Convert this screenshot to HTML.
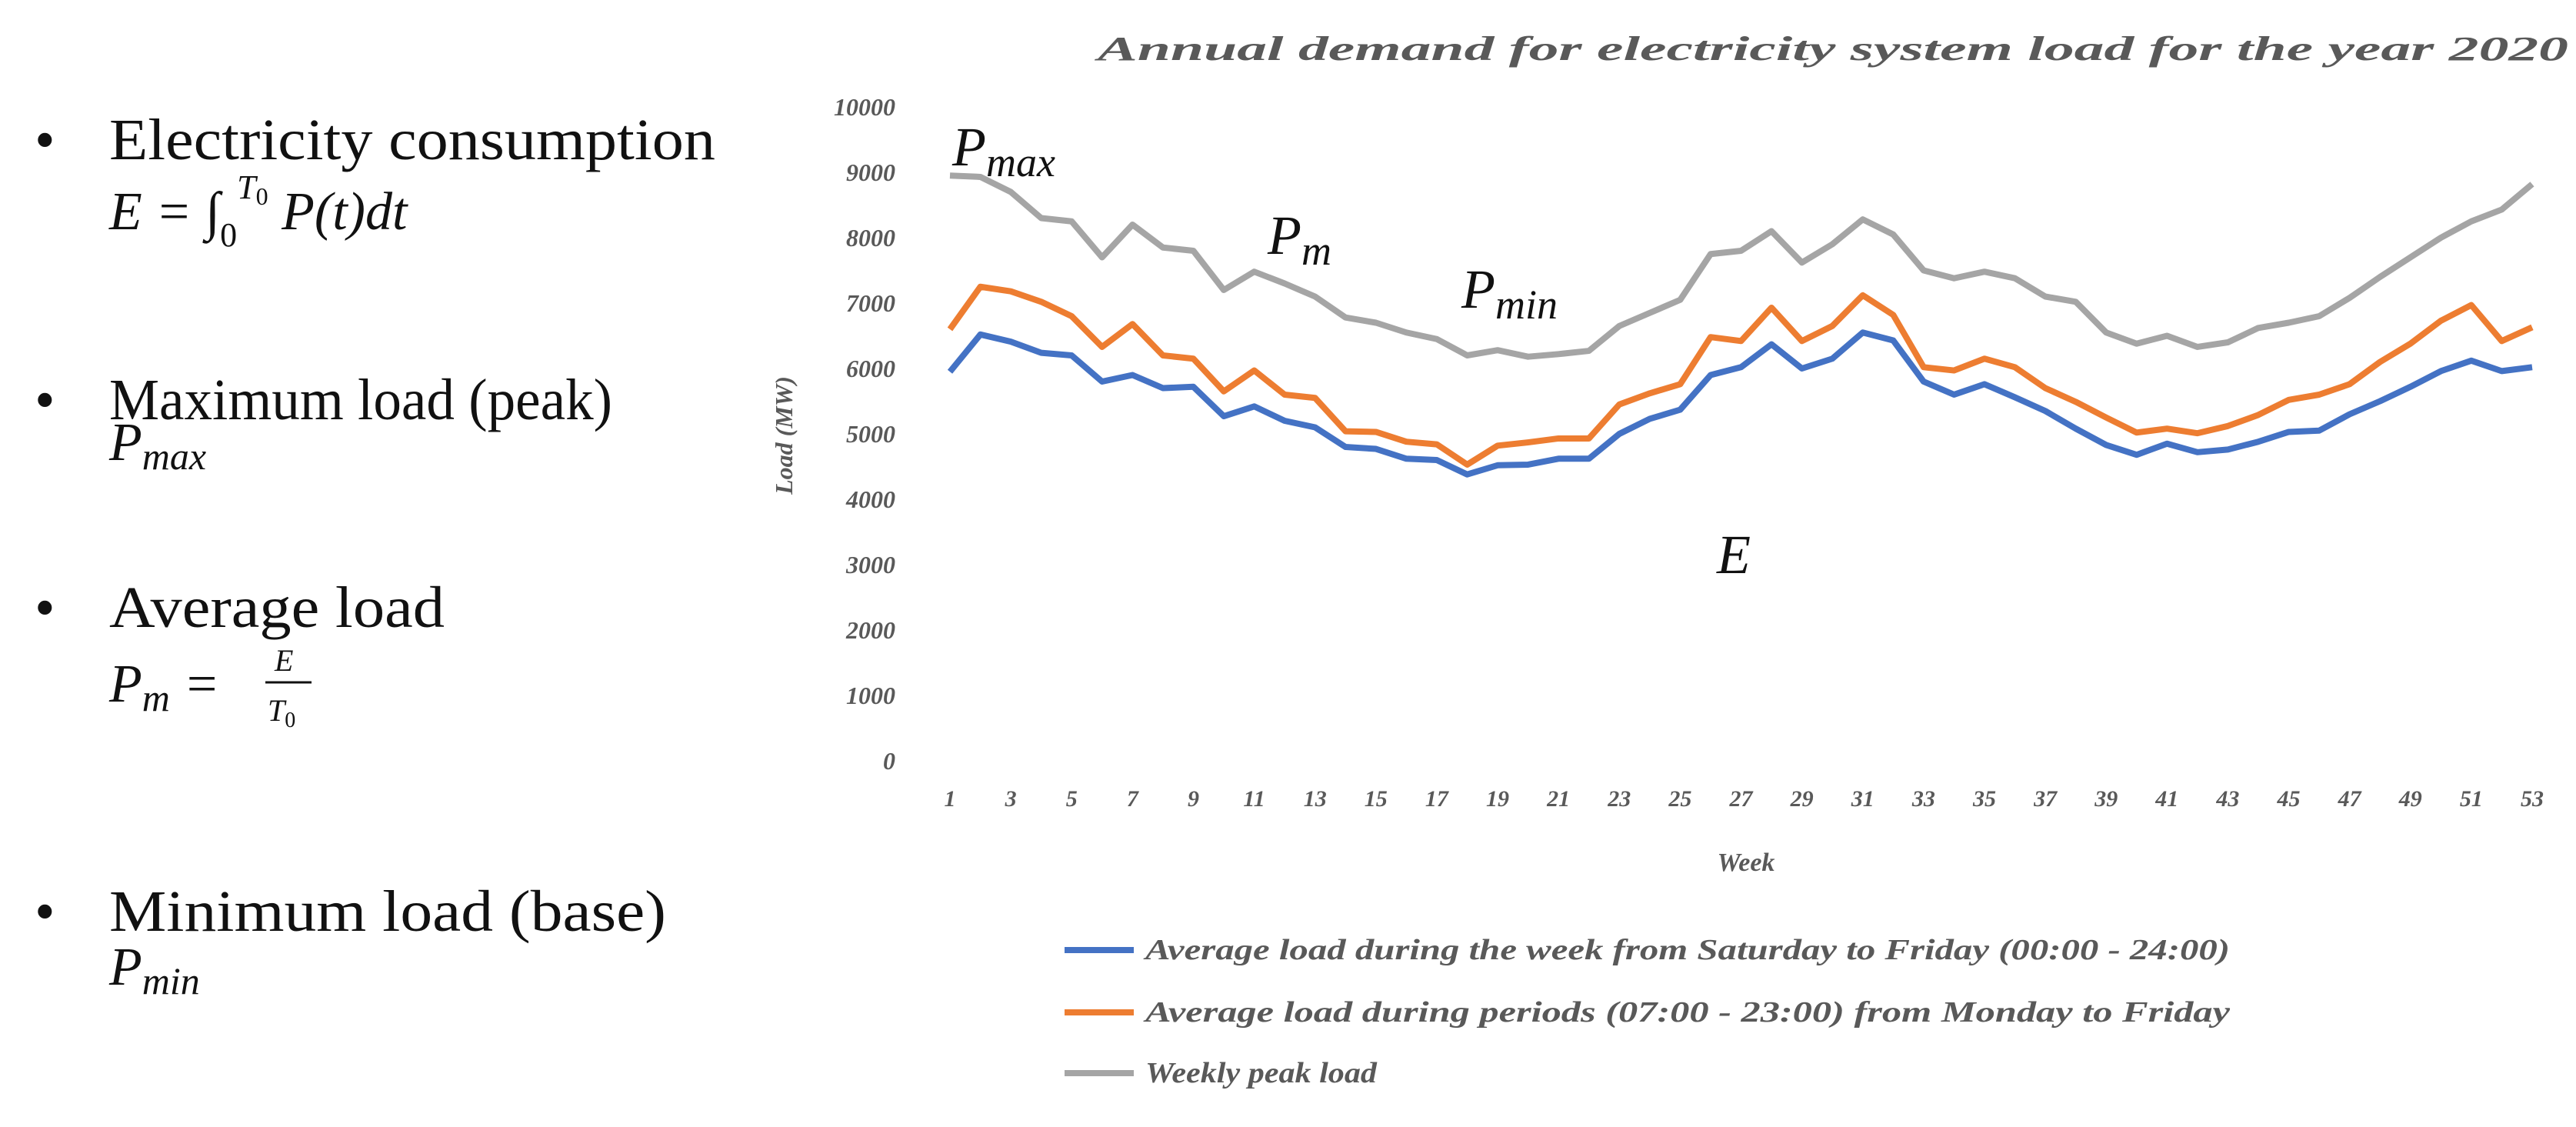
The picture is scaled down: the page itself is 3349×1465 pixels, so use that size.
<!DOCTYPE html>
<html><head><meta charset="utf-8"><style>
html,body{margin:0;padding:0;background:#fff;}
svg{display:block;}
.lt{font-family:"Liberation Serif",serif;font-size:76px;fill:#111;}
.math{font-family:"Liberation Serif",serif;font-style:italic;fill:#111;}
.ax{font-family:"Liberation Serif",serif;font-style:italic;font-weight:bold;fill:#595959;}
</style></head><body>
<svg id="chart" width="3349" height="1465" viewBox="0 0 3349 1465">
<g>
 <text class="lt" x="45" y="207">•</text>
 <text class="lt" x="142" y="207" textLength="788" lengthAdjust="spacingAndGlyphs">Electricity consumption</text>
 <text class="math" x="142" y="298" font-size="70">E = ∫<tspan font-size="44" dy="22" font-style="normal">0</tspan><tspan font-size="44" dy="-62">T</tspan><tspan font-size="32" dy="8" font-style="normal">0</tspan><tspan dy="32"> P(t)dt</tspan></text>
 <text class="lt" x="45" y="545">•</text>
 <text class="lt" x="142" y="545" textLength="654" lengthAdjust="spacingAndGlyphs">Maximum load (peak)</text>
 <text class="math" x="142" y="598" font-size="70">P<tspan font-size="50" dy="12">max</tspan></text>
 <text class="lt" x="45" y="815">•</text>
 <text class="lt" x="142" y="815" textLength="436" lengthAdjust="spacingAndGlyphs">Average load</text>
 <text class="math" x="142" y="912" font-size="70">P<tspan font-size="50" dy="12">m</tspan><tspan dy="-12"> =</tspan></text>
 <text class="math" x="357" y="872" font-size="40">E</text>
 <line x1="345" y1="887" x2="405" y2="887" stroke="#111" stroke-width="3"/>
 <text class="math" x="348" y="937" font-size="40">T<tspan font-size="28" dy="8" font-style="normal">0</tspan></text>
 <text class="lt" x="45" y="1210">•</text>
 <text class="lt" x="142" y="1210" textLength="724" lengthAdjust="spacingAndGlyphs">Minimum load (base)</text>
 <text class="math" x="142" y="1280" font-size="70">P<tspan font-size="50" dy="12">min</tspan></text>
</g>
<text class="ax" x="1427" y="78" font-size="44" textLength="1912" lengthAdjust="spacingAndGlyphs">Annual demand for electricity system load for the year 2020</text>
<g id="yticks"></g>
<g id="xticks"></g>
<text class="ax" font-size="32" transform="translate(1030,566) rotate(-90)" text-anchor="middle">Load (MW)</text>
<text class="ax" x="2270" y="1132" font-size="34" text-anchor="middle">Week</text>
<g id="series"></g>
<g>
 <text class="math" x="1238" y="215" font-size="72">P<tspan font-size="54" dy="14">max</tspan></text>
 <text class="math" x="1648" y="330" font-size="72">P<tspan font-size="54" dy="14">m</tspan></text>
 <text class="math" x="1900" y="400" font-size="72">P<tspan font-size="54" dy="14">min</tspan></text>
 <text class="math" x="2232" y="745" font-size="72">E</text>
</g>
<g id="legend"></g>
</svg>
<script>
const weeks = Array.from({length:53},(_,i)=>i+1);
const yTicks = [0,1000,2000,3000,4000,5000,6000,7000,8000,9000,10000];
const peakLoad = [8950,8930,8700,8300,8250,7700,8200,7850,7800,7200,7480,7300,7100,6780,6700,6550,6450,6200,6280,6180,6220,6270,6650,6850,7050,7750,7800,8100,7620,7900,8280,8050,7500,7380,7480,7380,7100,7020,6550,6380,6500,6330,6400,6620,6700,6800,7080,7400,7700,8000,8250,8430,8820];
const weekdayLoad = [6600,7250,7180,7020,6800,6330,6680,6200,6150,5650,5970,5600,5550,5040,5030,4880,4840,4530,4820,4870,4930,4930,5450,5620,5760,6480,6420,6930,6420,6650,7120,6820,6020,5970,6150,6020,5700,5490,5250,5020,5080,5010,5120,5290,5520,5600,5760,6100,6380,6730,6970,6420,6630];
const avgLoad = [5950,6520,6410,6240,6200,5800,5900,5700,5720,5270,5420,5200,5100,4800,4770,4620,4600,4380,4520,4530,4620,4620,5000,5230,5370,5900,6020,6370,6000,6150,6550,6430,5800,5600,5760,5560,5350,5080,4830,4680,4850,4720,4760,4880,5030,5050,5300,5500,5720,5960,6120,5960,6020];
const seriesNames = ["Average load during the week from Saturday to Friday (00:00 - 24:00)","Average load during periods (07:00 - 23:00) from Monday to Friday","Weekly peak load"];
const legendLens = [1410,1410,301];
const NS="http://www.w3.org/2000/svg";
const X0=1235,X1=3292,Y0=989,Y1=139;
const xs=w=>X0+(w-1)*(X1-X0)/52;
const ys=v=>Y0-(v/10000)*(Y0-Y1);
function mk(t,a,p){const e=document.createElementNS(NS,t);for(const k in a)e.setAttribute(k,a[k]);p.appendChild(e);return e;}
const yg=document.getElementById('yticks');
yTicks.forEach(v=>{const t=mk('text',{x:1164,y:ys(v)+11,'font-size':32,'text-anchor':'end',class:'ax'},yg);t.textContent=v;

});
const xg=document.getElementById('xticks');
weeks.forEach(w=>{if(w%2===1){const t=mk('text',{x:xs(w),y:1048,'font-size':30,'text-anchor':'middle',class:'ax'},xg);t.textContent=w;

}});
const sg=document.getElementById('series');
const defs=[[peakLoad,'#A5A5A5','peak-load-line'],[weekdayLoad,'#ED7D31','weekday-load-line'],[avgLoad,'#4472C4','average-load-line']];
defs.forEach(([d,c,n])=>{const p=mk('polyline',{points:d.map((v,i)=>xs(weeks[i])+','+ys(v)).join(' '),fill:'none',stroke:c,'stroke-width':8,'stroke-linejoin':'round'},sg);

});
const lg=document.getElementById('legend');
const lc=['#4472C4','#ED7D31','#A5A5A5'];const ly=[1235,1316,1395];
seriesNames.forEach((s,i)=>{const l=mk('line',{x1:1384,x2:1474,y1:ly[i],y2:ly[i],stroke:lc[i],'stroke-width':8},lg);


const t=mk('text',{x:1489,y:ly[i]+12,'font-size':38,class:'ax',textLength:legendLens[i],lengthAdjust:'spacingAndGlyphs'},lg);t.textContent=s;

});
</script>
</body></html>
